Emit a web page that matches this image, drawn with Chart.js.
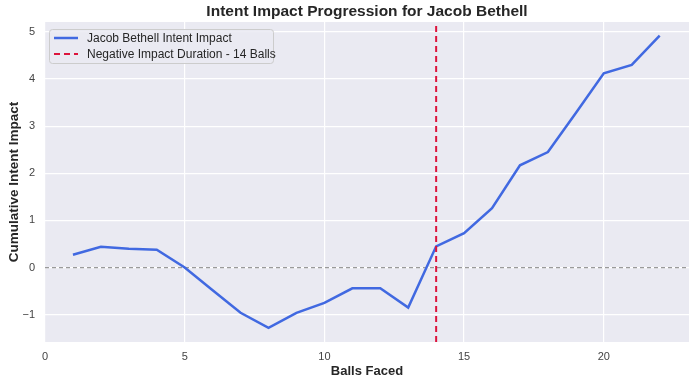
<!DOCTYPE html>
<html>
<head>
<meta charset="utf-8">
<title>Intent Impact Progression</title>
<script src="https://cdn.jsdelivr.net/npm/chart.js@4.4.1/dist/chart.umd.min.js"></script>
<style>
  html, body { margin: 0; padding: 0; background: #fff; }
  #wrap { width: 697px; height: 385px; position: relative; }
</style>
</head>
<body>
<div id="wrap"><canvas id="lineChart"></canvas></div>
<script>
// balls faced and cumulative intent impact
const balls = [1, 2, 3, 4, 5, 6, 7, 8, 9, 10, 11, 12, 13, 14, 15, 16, 17, 18, 19, 20, 21, 22];
const impact = [0.27, 0.44, 0.40, 0.38, 0.0, -0.48, -0.96, -1.28, -0.96, -0.75, -0.44, -0.44, -0.85, 0.45, 0.73, 1.26, 2.17, 2.45, 3.28, 4.12, 4.30, 4.92];
const negativeEnd = 14;
const xTicks = [0, 5, 10, 15, 20];
const yTicks = [-1, 0, 1, 2, 3, 4, 5];
const xRange = [0, 23.05];
const yRange = [-1.58, 5.21];

const playerLabel = "Jacob Bethell Intent Impact";
const negLabel = "Negative Impact Duration - " + negativeEnd + " Balls";
const chartTitle = "Intent Impact Progression for Jacob Bethell";

const FONT = "'Liberation Sans', Arial, sans-serif";

// plot background + title + legend box drawn on the canvas
const decor = {
    id: 'decor',
    beforeDraw(chart) {
        const { ctx, chartArea: a } = chart;
        ctx.save();
        ctx.fillStyle = '#ffffff';
        ctx.fillRect(0, 0, chart.width, chart.height);
        ctx.fillStyle = '#EAEAF2';
        ctx.fillRect(a.left, a.top, a.right - a.left, a.bottom - a.top);
        ctx.restore();
    },
    afterDraw(chart) {
        const { ctx, chartArea: a } = chart;
        ctx.save();
        ctx.fillStyle = '#262626';
        ctx.font = "bold 15.5px " + FONT;
        ctx.textAlign = 'center';
        ctx.textBaseline = 'middle';
        ctx.fillText(chartTitle, (a.left + a.right) / 2, 12);

        // legend
        const bx = a.left + 4, by = a.top + 7, bw = 224, bh = 34;
        ctx.fillStyle = 'rgba(234,234,242,0.85)';
        ctx.strokeStyle = '#cccccc';
        ctx.lineWidth = 1;
        ctx.beginPath();
        ctx.roundRect(bx + 0.5, by + 0.5, bw, bh, 3);
        ctx.fill();
        ctx.stroke();
        const items = chart.data.datasets.filter(d => d.label);
        ctx.font = "12px " + FONT;
        ctx.textAlign = 'left';
        items.forEach((d, i) => {
            const y = by + 9 + i * 16;
            ctx.strokeStyle = d.borderColor;
            ctx.lineWidth = d.borderWidth;
            ctx.setLineDash(d.borderDash || []);
            ctx.beginPath();
            ctx.moveTo(bx + 5, y);
            ctx.lineTo(bx + 29, y);
            ctx.stroke();
            ctx.setLineDash([]);
            ctx.fillStyle = '#262626';
            ctx.fillText(d.label, bx + 38, y + 1);
        });
        ctx.restore();
    }
};

const canvas = document.getElementById("lineChart");
const ctx = canvas.getContext("2d");
const myChart = new Chart(ctx, {
    type: 'line',
    data: {
        datasets: [{
            label: playerLabel,
            data: balls.map((b, i) => ({ x: b, y: impact[i] })),
            borderColor: '#4169E1',
            borderWidth: 2.5,
            pointRadius: 0,
            tension: 0,
            order: 1
        }, {
            label: '',
            data: [{ x: xRange[0], y: 0 }, { x: xRange[1], y: 0 }],
            borderColor: '#9a9a9a',
            borderWidth: 1.2,
            borderDash: [4, 3],
            pointRadius: 0,
            order: 2
        }, {
            label: negLabel,
            data: [{ x: negativeEnd, y: yRange[0] }, { x: negativeEnd, y: yRange[1] }],
            borderColor: '#DC143C',
            borderWidth: 2,
            borderDash: [6, 4],
            pointRadius: 0,
            order: 0
        }]
    },
    options: {
        responsive: true,
        maintainAspectRatio: false,
        animation: false,
        layout: { padding: { top: 22, right: 8, left: 0, bottom: 0 } },
        plugins: {
            legend: { display: false },
            title: { display: false },
            tooltip: { enabled: false }
        },
        scales: {
            x: {
                type: 'linear',
                min: xRange[0],
                max: xRange[1],
                afterBuildTicks: s => { s.ticks = xTicks.map(v => ({ value: v })); },
                afterFit: s => { s.height = 43; },
                grid: { color: '#ffffff', lineWidth: 1.2, drawTicks: false },
                border: { display: false },
                ticks: { color: '#444444', padding: 8, font: { family: FONT, size: 11 } },
                title: {
                    display: true,
                    text: 'Balls Faced',
                    color: '#262626',
                    padding: { top: 0, bottom: 6 },
                    font: { family: FONT, size: 13, weight: 'bold' }
                }
            },
            y: {
                type: 'linear',
                min: yRange[0],
                max: yRange[1],
                afterBuildTicks: s => { s.ticks = yTicks.map(v => ({ value: v })); },
                afterFit: s => { s.width = 45; },
                grid: { color: '#ffffff', lineWidth: 1.2, drawTicks: false },
                border: { display: false },
                ticks: {
                    color: '#444444',
                    padding: 10,
                    font: { family: FONT, size: 11 },
                    callback: v => (v < 0 ? '\u2212' + Math.abs(v) : String(v))
                },
                title: {
                    display: true,
                    text: 'Cumulative Intent Impact',
                    color: '#262626',
                    padding: { top: 6, bottom: 0 },
                    font: { family: FONT, size: 13.5, weight: 'bold' }
                }
            }
        }
    },
    plugins: [decor]
});
</script>
</body>
</html>
